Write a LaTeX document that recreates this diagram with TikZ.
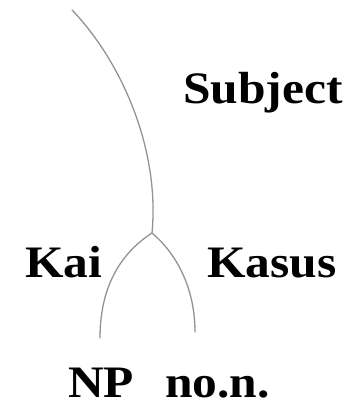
\documentclass[tikz,border=0pt]{standalone}
\usepackage{fontspec}
\setmainfont[FakeStretch=1.1]{Liberation Serif}
\usepackage{tikz}
\usetikzlibrary{positioning}

\begin{document}
\begin{tikzpicture}[x=1pt, y=-1pt,
    branch/.style={draw=gray!85, line width=1.3pt, line cap=round},
    lbl/.style={inner sep=0pt, anchor=base west, font=\fontsize{45}{50}\selectfont\bfseries}]
    \useasboundingbox (0,0) rectangle (352,409);

    % tree points
    \coordinate (top) at (72,10);
    \coordinate (fork) at (152,233);
    \coordinate (leftend) at (100,338);
    \coordinate (rightend) at (195,332);

    \draw[branch] (top) .. controls (122,62) and (160,150) .. (fork);
    \draw[branch] (fork) .. controls (118,255) and (100,290) .. (leftend);
    \draw[branch] (fork) .. controls (178,255) and (195,290) .. (rightend);

    % labels
    \node[lbl] (subj) at (183,103) {Subject};
    \node[lbl] (kai) at (25,277) {Kai};
    \node[lbl] (kasus) at (207,277) {Kasus};
    \node[lbl] (np) at (68,397) {NP};
    \node[lbl] (noun) at (165,397) {no.n.};
\end{tikzpicture}
\end{document}
